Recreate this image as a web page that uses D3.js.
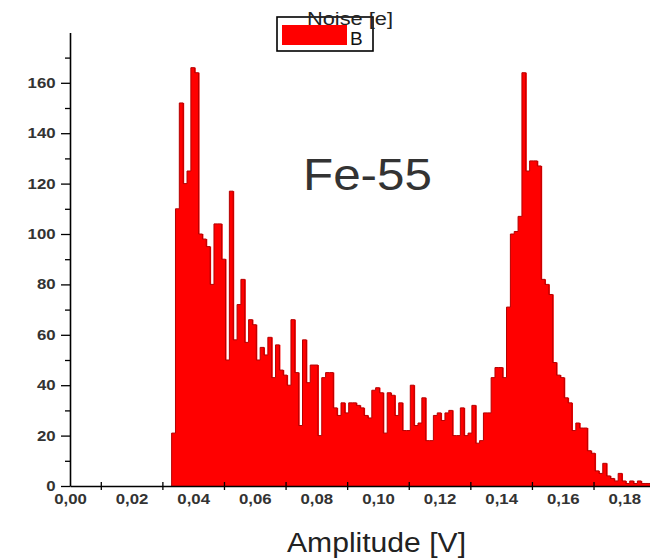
<!DOCTYPE html>
<html>
<head>
<meta charset="utf-8">
<script src="https://cdn.jsdelivr.net/npm/d3@7"></script>
<style>
  html, body { margin: 0; padding: 0; background: #fff; }
  svg { display: block; font-family: "Liberation Sans", Arial, sans-serif; }
</style>
</head>
<body>
<svg id="chart" width="650" height="560"></svg>
<script>
// histogram bins (amplitude in V)
const binStart = 0.0330;
const binWidth = 0.00125;
const counts = [
  21, 110, 152, 120, 125, 166, 164, 100, 98, 95,
  80, 104, 104, 90, 50, 117, 58, 72, 82, 57,
  66, 64, 50, 55, 52, 59, 43, 56, 46, 44,
  40, 66, 45, 24, 58, 41, 48, 48, 20, 43,
  45, 45, 31, 28, 33, 29, 33, 33, 32, 31,
  28, 27, 38, 39, 37, 21, 37, 36, 28, 33,
  22, 22, 40, 24, 25, 35, 18, 18, 28, 29,
  26, 29, 30, 20, 20, 31, 20, 21, 32, 17,
  18, 29, 29, 43, 47, 47, 43, 71, 100, 101,
  107, 164, 125, 129, 129, 127, 82, 80, 76, 49,
  44, 43, 35, 33, 22, 25, 23, 23, 14, 13,
  6, 5, 9, 4, 3, 2, 5, 2, 1, 2,
  1, 2, 1, 1, 1
];

const xLabelTicks = [0, 0.02, 0.04, 0.06, 0.08, 0.10, 0.12, 0.14, 0.16, 0.18];
const xMarkTicks = [0.01, 0.03, 0.05, 0.07, 0.09, 0.11, 0.13, 0.15, 0.17];
const yMajorTicks = [0, 20, 40, 60, 80, 100, 120, 140, 160];
const yMinorTicks = [10, 30, 50, 70, 90, 110, 130, 150, 170];

const xTitle = "Amplitude [V]";
const annotation = "Fe-55";
const legendName = "B";
const legendTitle = "Noise [e]";

const svg = d3.select("#chart");

const x = d3.scaleLinear().domain([0, 0.1885]).range([70, 650.5]);
const y = d3.scaleLinear().domain([0, 180]).range([486, 32.4]);

const bins = counts.map((c, i) => ({
  x0: binStart + i * binWidth,
  x1: binStart + (i + 1) * binWidth,
  count: c
}));

svg.append("clipPath").attr("id", "plotclip")
  .append("rect").attr("x", 70).attr("y", 0).attr("width", 580).attr("height", 486);

const plot = svg.append("g").attr("clip-path", "url(#plotclip)");

// bars (slightly widened so neighbours overlap and no seams show)
plot.selectAll("rect.bar")
  .data(bins)
  .join("rect")
  .attr("class", "bar")
  .attr("x", d => x(d.x0))
  .attr("y", d => y(d.count))
  .attr("width", d => x(d.x1) - x(d.x0) + 1)
  .attr("height", d => y(0) - y(d.count))
  .attr("fill", "#ff0000");

// dark outline along the bar tops
const pts = [[bins[0].x0, 0]];
bins.forEach(b => { pts.push([b.x0, b.count]); pts.push([b.x1, b.count]); });
pts.push([bins[bins.length - 1].x1, 0]);

plot.append("path")
  .datum(pts)
  .attr("fill", "none")
  .attr("stroke", "#b30000")
  .attr("stroke-width", 1)
  .attr("d", d3.line().x(d => x(d[0])).y(d => y(d[1])));

// y axis
const yAxis = svg.append("g").attr("transform", "translate(70,0)")
  .call(d3.axisLeft(y).tickValues(yMajorTicks).tickSize(9).tickSizeOuter(0).tickPadding(3));
yAxis.select(".domain").attr("stroke-width", 1.6);
yAxis.selectAll(".tick line").attr("stroke-width", 1.3);
yAxis.selectAll(".tick text")
  .attr("font-size", 14)
  .attr("font-weight", "bold")
  .attr("fill", "#333")
  .attr("transform", "scale(1.2,1)");

svg.append("g").attr("transform", "translate(70,0)")
  .call(d3.axisLeft(y).tickValues(yMinorTicks).tickSize(5).tickFormat("").tickSizeOuter(0))
  .call(g => g.select(".domain").remove())
  .selectAll(".tick line").attr("stroke-width", 1.3);

// x axis
const xAxis = svg.append("g").attr("transform", "translate(0,486)")
  .call(d3.axisBottom(x).tickValues(xMarkTicks).tickFormat("").tickSizeOuter(0));
xAxis.select(".domain").attr("stroke-width", 1.6);
xAxis.selectAll(".tick line").attr("y1", -4).attr("y2", 4).attr("stroke-width", 1.3);

const fmt = d3.format(".2f");
svg.append("g").attr("transform", "translate(0,486)")
  .call(d3.axisBottom(x).tickValues(xLabelTicks).tickSize(0).tickPadding(8.5)
    .tickFormat(d => fmt(d).replace(".", ",")))
  .call(g => g.select(".domain").remove())
  .selectAll(".tick text")
  .attr("font-size", 14)
  .attr("font-weight", "bold")
  .attr("fill", "#333")
  .attr("transform", "scale(1.2,1)")
  .attr("x", 0);

// axis title
svg.append("text")
  .attr("x", 287).attr("y", 552)
  .attr("font-size", 27)
  .attr("fill", "#222")
  .attr("textLength", 179)
  .attr("lengthAdjust", "spacingAndGlyphs")
  .text(xTitle);

// annotation
svg.append("text")
  .attr("x", 303).attr("y", 190)
  .attr("font-size", 45)
  .attr("fill", "#333")
  .attr("textLength", 129)
  .attr("lengthAdjust", "spacingAndGlyphs")
  .text(annotation);

// legend
const lg = svg.append("g");
lg.append("rect")
  .attr("x", 277).attr("y", 17).attr("width", 96).attr("height", 34)
  .attr("fill", "#fff").attr("stroke", "#000").attr("stroke-width", 1.6);
lg.append("rect")
  .attr("x", 282).attr("y", 25).attr("width", 65).attr("height", 20)
  .attr("fill", "#ff0000");
lg.append("text")
  .attr("x", 350).attr("y", 44.5)
  .attr("font-size", 19)
  .attr("fill", "#111")
  .text(legendName);
lg.append("text")
  .attr("x", 307).attr("y", 25)
  .attr("font-size", 18)
  .attr("fill", "#222")
  .attr("textLength", 86)
  .attr("lengthAdjust", "spacingAndGlyphs")
  .text(legendTitle);
</script>
</body>
</html>
